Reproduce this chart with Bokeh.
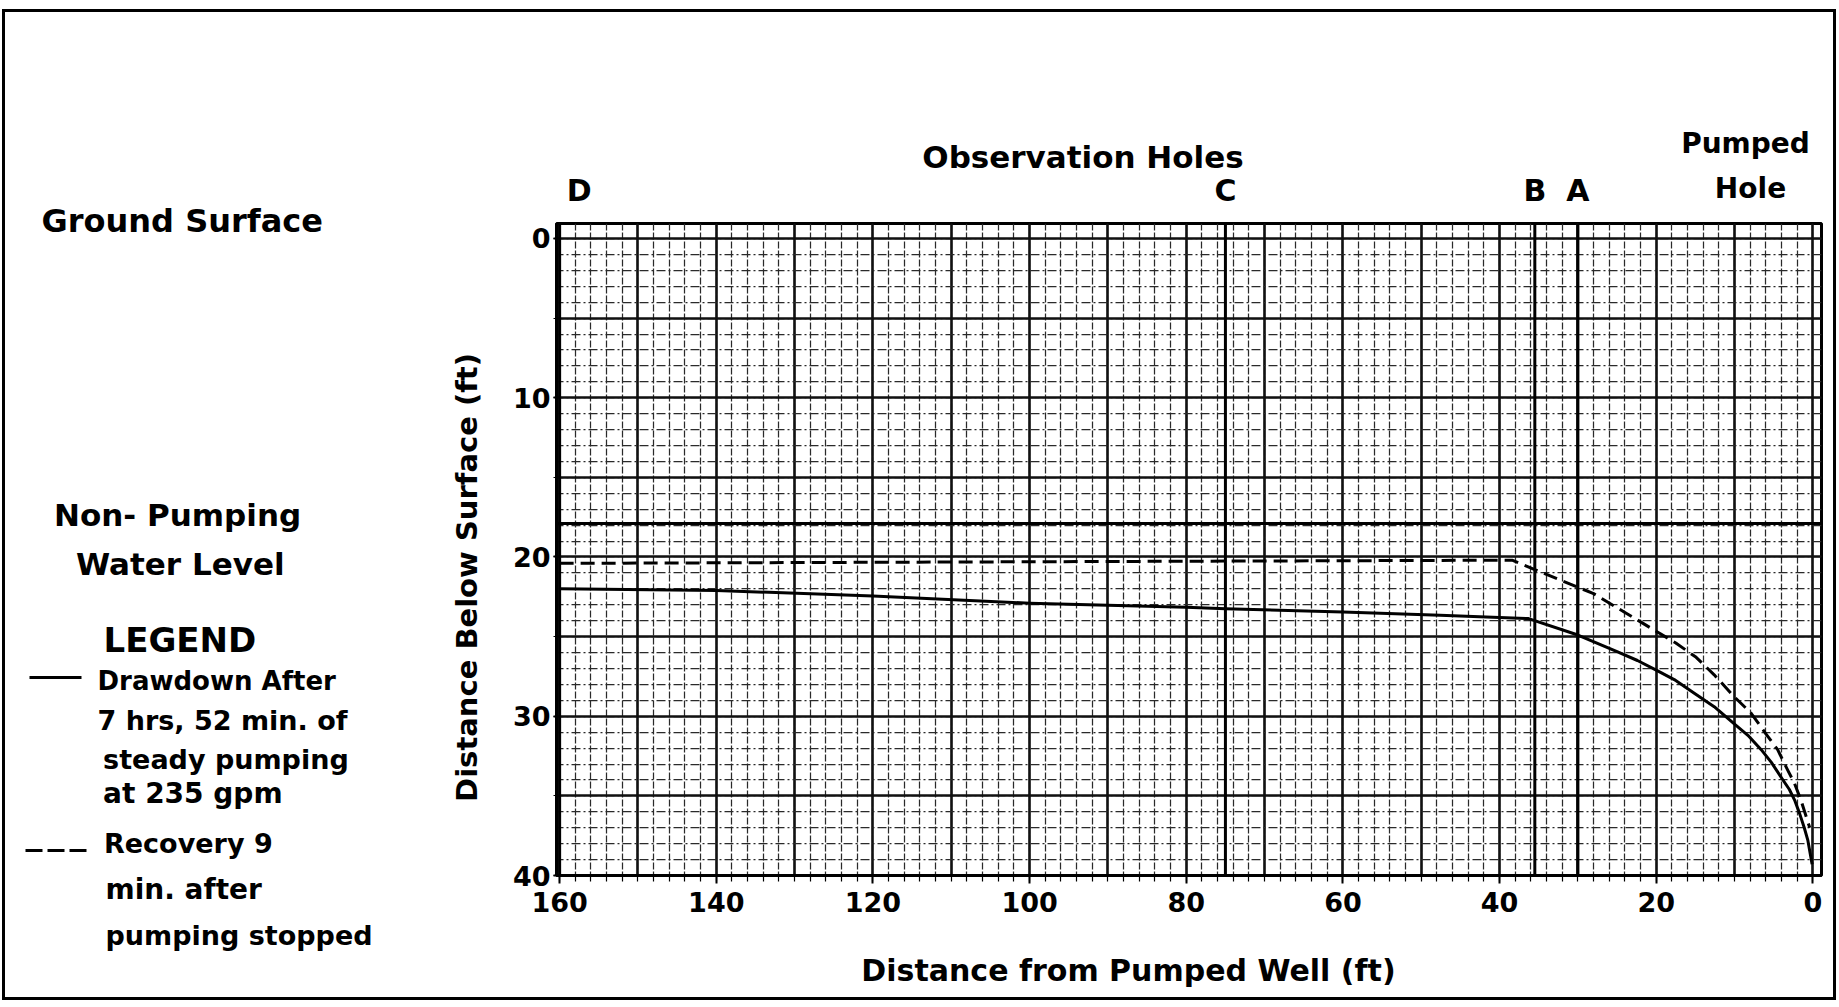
import math
from bokeh.plotting import figure
from bokeh.models import Range1d, FixedTicker, Span
from bokeh.layouts import row, column
from bokeh.core.properties import value
from bokeh.embed import file_html
from bokeh.resources import INLINE

# ---------------- data ----------------
# Drawdown after 7 hrs 52 min of steady pumping at 235 gpm (solid)
drawdown_dist = [160, 140, 120, 100, 80, 75, 60, 47.6, 36.3, 30, 25, 22.4, 20, 17.7, 15, 12.6,
                 10, 8.3, 6.6, 5.3, 4.1, 3.0, 2.3, 1.7, 1.1, 0.64, 0.1]
drawdown_depth = [22.0, 22.1, 22.45, 22.9, 23.15, 23.25, 23.45, 23.66, 23.87, 24.9, 25.95, 26.5,
                  27.1, 27.7, 28.6, 29.4, 30.5, 31.2, 32.1, 32.9, 33.8, 34.6, 35.3, 36.1, 37.0,
                  37.8, 39.3]
# Recovery 9 min after pumping stopped (dashed)
recovery_dist = [160, 100, 38.4, 35.2, 28.0, 24.1, 19.9, 17.5, 14.9, 12.6, 10.0, 7.9, 6.0, 4.5,
                 3.2, 2.36, 1.5, 0.86, 0.4]
recovery_depth = [20.4, 20.3, 20.2, 20.85, 22.3, 23.45, 24.7, 25.4, 26.3, 27.4, 28.8, 29.8, 31.1,
                  32.1, 33.4, 34.2, 35.3, 36.3, 37.0]
# Non-pumping water level (ft below surface)
nonpumping_level = 17.9
# Observation holes
hole_names = ["D", "C", "B", "A"]
hole_dist = [160, 75, 35.5, 30]
# Tick labels
x_tick_values = [0, 20, 40, 60, 80, 100, 120, 140, 160]
y_tick_values = [0, 10, 20, 30, 40]

# ---------------- layout geometry ----------------
FONT = "DejaVu Sans"
OX, OY = 5, 12                   # page position of the content (inside the border)
L_W = 498                        # left text panel width
B_LEFT, B_RIGHT, B_TOP, B_BOTTOM = 53, 12, 3, 50
FRAME_W, FRAME_H = 1265, 652
R_W = B_LEFT + FRAME_W + B_RIGHT
H_HEAD, H_FOOT = 208, 72
H_MAIN = B_TOP + FRAME_H + B_BOTTOM
TOTAL_H = H_HEAD + H_MAIN + H_FOOT
X_START, X_END = 160.4, -1.1
Y_BOTTOM, Y_TOP = 40, -0.94
PPU = FRAME_W / (X_START - X_END)
FRAME_LEFT_PAGE = OX + L_W + B_LEFT


def dist_at(page_x):
    """data x for a page pixel column"""
    return X_START - (page_x - FRAME_LEFT_PAGE) / PPU


def bare(width, height, xr, yr, bl=0, br=0):
    f = figure(width=width, height=height, x_range=xr, y_range=yr,
               output_backend="svg", toolbar_location=None,
               x_axis_location=None, y_axis_location=None,
               min_border_left=bl, min_border_right=br, min_border_top=0, min_border_bottom=0)
    f.grid.visible = False
    f.outline_line_color = None
    f.background_fill_alpha = 0
    f.border_fill_alpha = 0
    return f


def txt(f, t, x, y, size, align="left", angle=0.0, x_offset=0):
    f.text(x=[x], y=[y], text=[t], text_font=value(FONT), text_font_style="bold",
           text_font_size=f"{size}px", text_color="black", text_align=align,
           text_baseline="middle", angle=angle, x_offset=x_offset)


# ---------------- main chart ----------------
p = figure(width=R_W, height=H_MAIN,
           x_range=Range1d(X_START, X_END), y_range=Range1d(Y_BOTTOM, Y_TOP),
           output_backend="svg", toolbar_location=None,
           min_border_left=B_LEFT, min_border_right=B_RIGHT,
           min_border_top=B_TOP, min_border_bottom=B_BOTTOM)
p.background_fill_color = "white"
p.border_fill_alpha = 0
p.outline_line_color = "black"
p.outline_line_width = 3
p.outline_line_alpha = 1

p.xgrid.ticker = FixedTicker(ticks=list(range(0, 161, 10)), minor_ticks=list(range(0, 161, 2)))
p.ygrid.ticker = FixedTicker(ticks=list(range(0, 41, 5)), minor_ticks=list(range(0, 41, 1)))
for g in (p.xgrid[0], p.ygrid[0]):
    g.grid_line_color = "#111111"
    g.grid_line_width = 2.6
    g.grid_line_alpha = 1
    g.minor_grid_line_color = "#2a2a2a"
    g.minor_grid_line_width = 1.25
    g.minor_grid_line_alpha = 1
p.xgrid.minor_grid_line_dash = "7 2"
p.ygrid.minor_grid_line_dash = "9 3 2 3"

xa = p.xaxis[0]
xa.ticker = FixedTicker(ticks=x_tick_values, minor_ticks=list(range(0, 161, 2)))
xa.major_tick_out = 8
xa.major_tick_in = 0
xa.minor_tick_out = 6
xa.minor_tick_in = 0
xa.major_label_standoff = 8
ya = p.yaxis[0]
ya.ticker = FixedTicker(ticks=y_tick_values, minor_ticks=list(range(0, 41, 5)))
ya.major_tick_out = 3
ya.major_tick_in = 0
ya.minor_tick_out = 3
ya.minor_tick_in = 0
ya.major_label_standoff = 3
for ax in (xa, ya):
    ax.axis_line_color = "black"
    ax.axis_line_width = 3
    ax.major_tick_line_color = "black"
    ax.major_tick_line_width = 2
    ax.minor_tick_line_color = "black"
    ax.minor_tick_line_width = 1.2
    ax.major_label_text_font = FONT
    ax.major_label_text_font_style = "bold"
    ax.major_label_text_font_size = "27px"
    ax.major_label_text_color = "black"

for d in hole_dist:
    p.add_layout(Span(location=d, dimension="height", line_color="black", line_width=3))
p.add_layout(Span(location=nonpumping_level, dimension="width", line_color="black", line_width=3))

p.line(drawdown_dist, drawdown_depth, line_color="black", line_width=3, line_join="round")
p.line(recovery_dist, recovery_depth, line_color="black", line_width=3, line_dash="14 7",
       line_join="round")

# ---------------- header (above the chart, same x scale) ----------------
head = bare(R_W, H_HEAD, p.x_range, Range1d(H_HEAD, 0), B_LEFT, B_RIGHT)
txt(head, "Observation Holes", dist_at(1082.5), 156.5 - OY, 31, "center")
txt(head, "Pumped", dist_at(1745), 143 - OY, 28, "center")
txt(head, "Hole", dist_at(1750), 188 - OY, 28, "center")
for name, d in zip(hole_names, hole_dist):
    is_edge = d == max(hole_dist)
    txt(head, name, d, 190 - OY, 30, "left" if is_edge else "center", x_offset=7 if is_edge else 0)

# ---------------- footer (x-axis title) ----------------
foot = bare(R_W, H_FOOT, p.x_range, Range1d(H_FOOT, 0), B_LEFT, B_RIGHT)
txt(foot, "Distance from Pumped Well (ft)", dist_at(1128), 970 - OY - H_HEAD - H_MAIN, 30, "center")

# ---------------- left panel (texts, legend, y-axis title) ----------------
lp = bare(L_W, TOTAL_H, Range1d(0, L_W), Range1d(TOTAL_H, 0))


def ltxt(t, page_x, page_y, size, align="left", angle=0.0):
    txt(lp, t, page_x - OX, page_y - OY, size, align, angle)


ltxt("Distance Below Surface (ft)", 466, 577, 29, "center", angle=math.pi / 2)
ltxt("Ground Surface", 41, 220.5, 32)
ltxt("Non- Pumping", 53.5, 514, 31)
ltxt("Water Level", 75.5, 563, 31)
ltxt("LEGEND", 103, 639.5, 34)
ltxt("Drawdown After", 97, 680, 26)
ltxt("7 hrs, 52 min. of", 97, 719.5, 27)
ltxt("steady pumping", 102.6, 759, 27)
ltxt("at 235 gpm", 102.6, 793, 28)
ltxt("Recovery 9", 103.5, 843, 27)
ltxt("min. after", 105, 889, 28)
ltxt("pumping stopped", 105, 935, 27)
# legend keys
lp.line([29 - OX, 81 - OX], [677 - OY, 677 - OY], line_color="black", line_width=3)
lp.line([25 - OX, 86 - OX], [850 - OY, 850 - OY], line_color="black", line_width=3,
        line_dash="17 5")

layout = row(lp, column(head, p, foot),
             styles={"border": "3px solid black", "margin": "9px 0px 0px 2px"})
open("out.html", "w").write(file_html(layout, INLINE))
